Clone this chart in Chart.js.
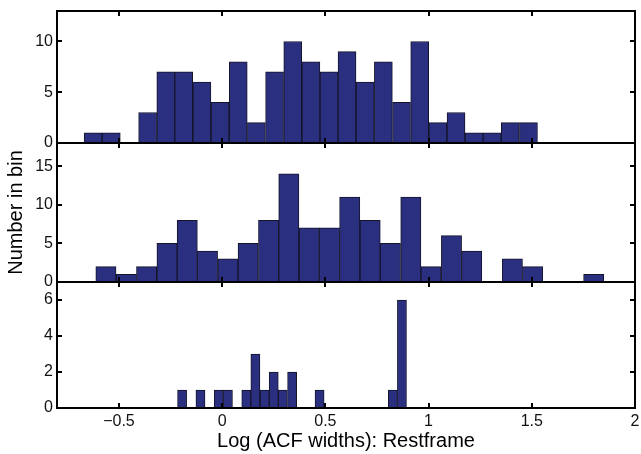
<!DOCTYPE html>
<html><head><meta charset="utf-8">
<script src="https://cdn.jsdelivr.net/npm/chart.js@4.4.0/dist/chart.umd.min.js"></script>
<style>
html,body{margin:0;padding:0;background:#fff;}
#wrap{position:relative;width:641px;height:454px;overflow:hidden;background:#fff;}
canvas{position:absolute;left:0;}
</style></head><body>
<div id="wrap">
<canvas id="c1" width="641" height="160" style="top:0px"></canvas>
<canvas id="c2" width="641" height="160" style="top:133px"></canvas>
<canvas id="c3" width="641" height="182" style="top:272px"></canvas>
</div>
<script>
// ---- data (bin centres and counts) ----
const topCenters = [-0.625,-0.537,-0.449,-0.361,-0.273,-0.186,-0.098,-0.010,0.078,0.166,0.254,0.342,0.430,0.518,0.605,0.693,0.781,0.869,0.957,1.045,1.133,1.221,1.308,1.396,1.484];
const topCounts  = [1,1,0,3,7,7,6,4,8,2,7,10,8,7,9,6,8,4,10,2,3,1,1,2,2];

const midCenters = [-0.563,-0.464,-0.366,-0.267,-0.169,-0.071,0.028,0.126,0.225,0.323,0.422,0.520,0.618,0.717,0.815,0.914,1.012,1.111,1.209,1.307,1.406,1.504,1.603,1.701,1.800];
const midCounts  = [2,1,2,5,8,4,3,5,8,14,7,7,11,8,5,11,2,6,4,0,3,2,0,0,1];

const botCenters = [-0.194,-0.149,-0.105,-0.061,-0.016,0.028,0.072,0.117,0.161,0.206,0.250,0.294,0.339,0.383,0.428,0.472,0.516,0.561,0.605,0.650,0.694,0.738,0.783,0.827,0.871];
const botCounts  = [1,0,1,0,1,1,0,1,3,1,2,1,2,0,0,1,0,0,0,0,0,0,0,1,6];

const xRange = [-0.8, 2];
const xStep = 0.5;
const yTitle = 'Number in bin';
const xTitle = 'Log (ACF widths): Restframe';

const FONT = "'Liberation Sans', Arial, Helvetica, sans-serif";
Chart.defaults.font.family = FONT;
Chart.defaults.color = '#111';

const BAR_FILL = '#2b2f80';
const BAR_EDGE = '#15152a';

function gridOpts(){
  return {display:true, drawOnChartArea:false, drawTicks:true, tickLength:-5,
          color:'#000', tickWidth:2, lineWidth:2, offset:false, z:1};
}
function borderOpts(){ return {display:true, color:'#000', width:2, z:1}; }

function makeChart(id, centers, counts, yMax, yStep, cfg){
  const tickFont = {family:FONT, size:16};
  const titleFont = {family:FONT, size:20, lineHeight:1};
  const scales = {
    x: {
      type:'linear', axis:'x', position:'bottom', min:xRange[0], max:xRange[1], offset:false,
      grid:gridOpts(), border:borderOpts(),
      ticks:{display:cfg.xLabels, stepSize:xStep, includeBounds:false, font:tickFont, color:'#111', padding:9, maxRotation:0, autoSkip:false,
             callback:v => (v < 0 ? '\u2212' + Math.abs(v) : String(v))},
      title:{display:!!cfg.xTitle, text:cfg.xTitle || '', font:titleFont, color:'#000', padding:{top:0,bottom:3}},
      afterFit:s => { s.height = cfg.xHeight; s.paddingLeft = 0; s.paddingRight = 0; }
    },
    x2: {
      type:'linear', axis:'x', position:'top', min:xRange[0], max:xRange[1], offset:false,
      grid:gridOpts(), border:borderOpts(),
      ticks:{display:false, stepSize:xStep, includeBounds:false},
      afterFit:s => { s.height = 0; s.paddingLeft = 0; s.paddingRight = 0; }
    },
    y: {
      type:'linear', axis:'y', position:'left', min:0, max:yMax,
      grid:gridOpts(), border:borderOpts(),
      ticks:{stepSize:yStep, includeBounds:false, font:tickFont, color:'#111', padding:9},
      title:{display:!!cfg.yTitle, text:cfg.yTitle || '', font:titleFont, color:'#000', padding:{top:6,bottom:0}},
      afterFit:s => { s.width = 57; s.paddingTop = 0; s.paddingBottom = 0; }
    },
    y2: {
      type:'linear', axis:'y', position:'right', min:0, max:yMax,
      grid:gridOpts(), border:borderOpts(),
      ticks:{display:false, stepSize:yStep, includeBounds:false},
      afterFit:s => { s.width = 6; s.paddingTop = 0; s.paddingBottom = 0; }
    }
  };
  return new Chart(document.getElementById(id), {
    type:'bar',
    data:{datasets:[{
      data:centers.map((c,i)=>({x:c, y:counts[i]})),
      xAxisID:'x', yAxisID:'y',
      backgroundColor:BAR_FILL, borderColor:BAR_EDGE, borderWidth:1,
      barPercentage:1, categoryPercentage:1
    }]},
    options:{
      responsive:false, animation:false, devicePixelRatio:1,
      layout:{padding:{top:cfg.padTop, left:0, right:0, bottom:0}},
      plugins:{legend:{display:false}, tooltip:{enabled:false}},
      scales
    }
  });
}

makeChart('c1', topCenters, topCounts, 13, 5, {xLabels:false, xHeight:17, padTop:11});
makeChart('c2', midCenters, midCounts, 18, 5, {xLabels:false, xHeight:11, padTop:10, yTitle:yTitle});
makeChart('c3', botCenters, botCounts, 7, 2, {xLabels:true, xHeight:46, padTop:10, xTitle:xTitle});
</script>
</body></html>
